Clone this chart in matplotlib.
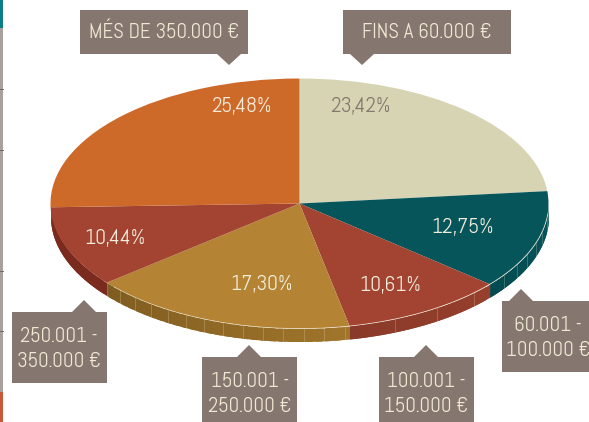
import numpy as np
import matplotlib
matplotlib.use('Agg')
import matplotlib.pyplot as plt
from matplotlib.patches import Polygon, Rectangle
from matplotlib.colors import to_rgb

# share of each band, clockwise from the top of the pie
bands = ['FINS A 60.000 €', '60.001 -\n100.000 €', '100.001 -\n150.000 €',
         '150.001 -\n250.000 €', '250.001 -\n350.000 €', 'MÉS DE 350.000 €']
shares = [23.42, 12.75, 10.61, 17.30, 10.44, 25.48]
share_labels = ['23,42%', '12,75%', '10,61%', '17,30%', '10,44%', '25,48%']

top_colors = ['#D7D4B3', '#05555B', '#A34331', '#B48434', '#A34331', '#CE6A29']
wall_from = ['#D7D4B3', '#05555B', '#963F2C', '#A0752B', '#7B2B1E', '#A8551F']
wall_to = ['#D7D4B3', '#044B51', '#8A3A2A', '#7F5C20', '#7B2B1E', '#A8551F']
seam_step = [0, 5.5, 11, 4.7, 0, 0]

# label anchors in picture pixels
share_xy = [(360, 106.5), (463, 227.5), (390, 285.5), (261, 284.5), (115, 238.5), (241, 106.5)]
box_xywh = [(343, 10, 168, 44), (502, 301, 90, 71), (379, 357, 95, 68),
            (202, 357, 95, 68), (12, 312, 95, 71), (80, 10, 168, 44)]
tip_xy = [(362, 65), (521, 289), (426, 345), (249, 345), (84, 300), (229, 65)]
text_xy = [(427, 32.5), (548, 338), (426, 394), (250, 394), (59, 349), (164, 32.5)]
page_ticks = [89, 150, 271, 331]

W, H = 589, 422
box_color = '#85776F'
text_color = '#EFE9D3'
font = ['Abel', 'Barlow Condensed', 'Asap Condensed', 'Liberation Sans Narrow', 'DejaVu Sans']

fig = plt.figure(figsize=(W / 100, H / 100), dpi=100, facecolor='white')

# pixel overlay for the boxes and texts
ov = fig.add_axes([0, 0, 1, 1], zorder=2)
ov.set_xlim(0, W)
ov.set_ylim(H, 0)
ov.axis('off')
ov.patch.set_alpha(0)

# pie squashed into an ellipse by its axes
cx, cy, rx, ry, depth = 299.5, 203.5, 249, 125, 13
ax = fig.add_axes([(cx - rx) / W, (H - cy - ry) / H, 2 * rx / W, 2 * ry / H], zorder=1)
ax.pie(shares, colors=top_colors, startangle=90, counterclock=False, radius=1,
       wedgeprops={'linewidth': 0})
ax.set_aspect('auto')
ax.set_xlim(-1, 1)
ax.set_ylim(-1, 1)
for w in ax.patches:
    w.set_zorder(3)

d = depth / ry
edges = np.cumsum([0] + shares) * 3.6
for i in range(len(shares)):
    a0, a1 = max(edges[i], 90), min(edges[i + 1], 270)
    if a1 <= a0:
        continue
    steps = np.linspace(a0, a1, 30)
    c0, c1 = np.array(to_rgb(wall_from[i])), np.array(to_rgb(wall_to[i]))
    for j in range(len(steps) - 1):
        t = np.radians(np.linspace(steps[j], min(steps[j + 1] + 1.5, a1), 6))
        f = j / (len(steps) - 2)
        ax.fill_between(np.sin(t), np.cos(t), np.cos(t) - d, color=c0 + (c1 - c0) * f,
                        lw=0, zorder=1, clip_on=False)
    # thin pale seams on the side wall
    if seam_step[i]:
        for a in np.arange(a1 - seam_step[i], a0, -seam_step[i]):
            x, y = np.sin(np.radians(a)), np.cos(np.radians(a))
            ax.plot([x, x], [y, y - d], color='#E6D9B8', lw=0.4, alpha=0.45, zorder=2, clip_on=False)

# pale rim along the front of the top face
t = np.radians(np.linspace(95, 228, 200))
ax.plot(np.sin(t), np.cos(t), color='#EFE6CC', lw=0.5, alpha=0.6, zorder=4, clip_on=False)

# texts and callouts
for i, lab in enumerate(share_labels):
    ov.text(*share_xy[i], lab, color=box_color if i == 0 else '#F3EDDC', fontsize=15.5,
            ha='center', va='center', family=font)

for i, name in enumerate(bands):
    x, y, w, h = box_xywh[i]
    tx, ty = tip_xy[i]
    ov.add_patch(Rectangle((x, y), w, h, fc=box_color, ec='none'))
    base = y + h if ty > y + h else y
    ov.add_patch(Polygon([(tx - 12, base), (tx + 12, base), (tx, ty)], fc=box_color, ec='none'))
    ov.text(*text_xy[i], name, color=text_color, fontsize=15, ha='center', va='center',
            linespacing=1.4, family=font)

# strip left over at the page edge
ov.add_patch(Rectangle((0, 0), 2.5, H, fc='#A8A09C', ec='none'))
ov.add_patch(Rectangle((0, 0), 2.5, 28, fc='#0B7D85', ec='none'))
ov.add_patch(Rectangle((0, 392), 2.5, 30, fc='#C9573A', ec='none'))
for y in page_ticks:
    ov.plot([0, 2.5], [y, y], color='#6F6A68', lw=0.7)

fig.savefig('out.png', dpi=100)
